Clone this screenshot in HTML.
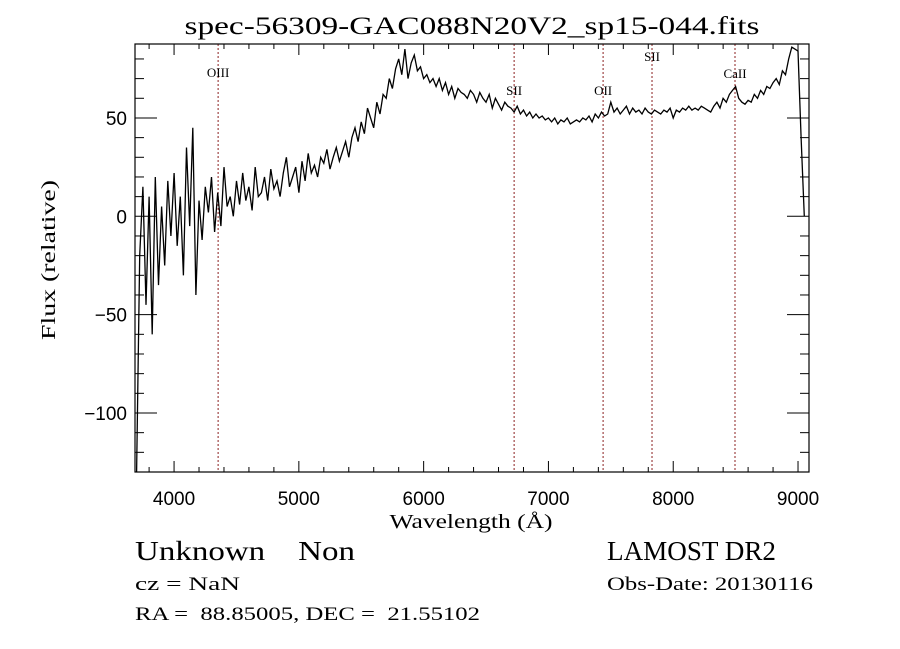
<!DOCTYPE html>
<html><head><meta charset="utf-8"><style>
body{margin:0;background:#fff;}
svg{display:block;font-family:"Liberation Serif",serif;}
svg text{white-space:pre;}
</style></head><body>
<svg id="chart" width="900" height="649" viewBox="0 0 900 649" xmlns="http://www.w3.org/2000/svg" xml:space="preserve">
<rect width="900" height="649" fill="#fff"/>
<text x="472" y="34" font-size="25" text-anchor="middle" textLength="575" lengthAdjust="spacingAndGlyphs">spec-56309-GAC088N20V2_sp15-044.fits</text>
<g id="lines"></g>
<g id="series"></g>
<g id="axes"></g>
<text x="471" y="528" font-size="20" text-anchor="middle" textLength="163" lengthAdjust="spacingAndGlyphs">Wavelength (Å)</text>
<text transform="translate(55,260) rotate(-90)" font-size="20" text-anchor="middle" textLength="160" lengthAdjust="spacingAndGlyphs">Flux (relative)</text>
<text x="135" y="560" font-size="27" textLength="220" lengthAdjust="spacingAndGlyphs">Unknown    Non</text>
<text x="607" y="560" font-size="27" textLength="169" lengthAdjust="spacingAndGlyphs">LAMOST DR2</text>
<text x="135" y="590" font-size="19" textLength="105" lengthAdjust="spacingAndGlyphs">cz = NaN</text>
<text x="607" y="590" font-size="19" textLength="206" lengthAdjust="spacingAndGlyphs">Obs-Date: 20130116</text>
<text x="135" y="620" font-size="19" textLength="345" lengthAdjust="spacingAndGlyphs">RA =  88.85005, DEC =  21.55102</text>
</svg>
<script>
const wlStart = 3700;
const wlStep = 25;
const flux = [
-130,-20,15,-45,10,-60,20,-35,5,-25,18,-10,
22,-15,10,-30,35,-5,45,-40,8,-12,15,2,
20,-8,12,-5,25,5,10,0,18,6,22,8,
15,3,25,10,12,20,8,24,14,18,10,22,
30,15,20,25,12,28,18,32,22,26,20,30,
27,34,24,30,35,28,33,38,30,40,45,38,
48,42,55,50,45,58,52,62,60,70,65,75,
80,72,85,70,78,82,74,76,70,72,68,70,
66,70,64,68,62,66,60,65,63,62,60,64,
62,58,63,60,58,62,55,60,57,54,58,56,
55,53,56,52,54,51,53,50,52,50,51,49,
50,48,50,47,49,48,50,47,48,49,48,50,
49,51,48,52,50,53,51,52,58,53,55,52,
54,56,52,55,53,54,52,55,53,52,54,53,
52,54,53,55,50,54,53,55,54,56,54,55,
54,56,55,54,53,56,58,55,60,58,62,64,
66,60,58,57,59,58,62,60,64,62,66,65,
68,70,67,74,72,80,86,85,
84,40,0
];
const lineNames = ["OIII","SII","OII","SII","CaII"];
const lineWl = [4353,6725,7438,7830,8495];
const lineLabelY = [77,95,95,61,78];
const xTicks = [4000,5000,6000,7000,8000,9000];
const yTicks = [-100,-50,0,50];

const L=135,R=809,T=44,B=472;
const X0=3687,X1=9088,Y0=-130,Y1=87.6;
const sx=v=>L+(v-X0)/(X1-X0)*(R-L);
const sy=v=>B-(v-Y0)/(Y1-Y0)*(B-T);
const NS="http://www.w3.org/2000/svg";
function mk(tag,attrs,parent){const e=document.createElementNS(NS,tag);for(const k in attrs)e.setAttribute(k,attrs[k]);parent.appendChild(e);return e;}

const lg=document.getElementById('lines');
lineWl.forEach((w,i)=>{
  const ln=mk('line',{x1:sx(w),x2:sx(w),y1:T,y2:B,stroke:'#8b2020','stroke-width':1,'stroke-dasharray':'2,2'},lg);
  
  
  const t=mk('text',{x:sx(w),y:lineLabelY[i],'font-size':13,'text-anchor':'middle'},lg);
  t.textContent=lineNames[i];
  
  
});

const sg=document.getElementById('series');
let d='';
flux.forEach((v,i)=>{const w=wlStart+i*wlStep;const y=Math.max(T,Math.min(B,sy(v)));d+=(i?'L':'M')+sx(w).toFixed(1)+','+y.toFixed(1);});
const p=mk('path',{d:d,fill:'none',stroke:'#000','stroke-width':1.3},sg);



const ag=document.getElementById('axes');
const fr=mk('rect',{x:L,y:T,width:R-L,height:B-T,fill:'none',stroke:'#000','stroke-width':1.2},ag);


for(let w=3800;w<=9000;w+=200){
  const major=w%1000===0;const len=major?11:5;
  mk('line',{x1:sx(w),x2:sx(w),y1:B,y2:B-len,stroke:'#000'},ag);
  mk('line',{x1:sx(w),x2:sx(w),y1:T,y2:T+len,stroke:'#000'},ag);
}
for(let v=-120;v<=80;v+=10){
  const major=v%50===0;const len=major?22:9;
  mk('line',{x1:L,x2:L+len,y1:sy(v),y2:sy(v),stroke:'#000'},ag);
  mk('line',{x1:R,x2:R-len,y1:sy(v),y2:sy(v),stroke:'#000'},ag);
}
xTicks.forEach(w=>{
  const t=mk('text',{x:sx(w),y:505,'font-size':19,'text-anchor':'middle','font-family':'Liberation Sans, sans-serif'},ag);
  t.textContent=w;
  
  
});
yTicks.forEach(v=>{
  const t=mk('text',{x:127,y:sy(v)+7,'font-size':19,'text-anchor':'end','font-family':'Liberation Sans, sans-serif'},ag);
  t.textContent=v<0?'\u2212'+Math.abs(v):v;
  
  
});
</script>
</body></html>
